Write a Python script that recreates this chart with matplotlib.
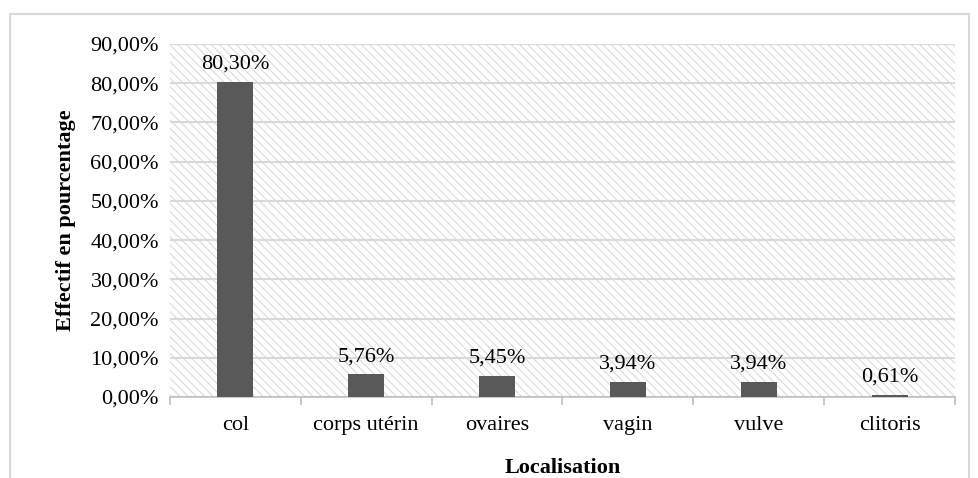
import matplotlib.pyplot as plt
from matplotlib.patches import Rectangle
import numpy as np

categories = ['col', 'corps utérin', 'ovaires', 'vagin', 'vulve', 'clitoris']
values = [80.30, 5.76, 5.45, 3.94, 3.94, 0.61]
yticks = [0, 10, 20, 30, 40, 50, 60, 70, 80, 90]

plt.rcParams['font.family'] = ['Liberation Serif', 'DejaVu Serif']
plt.rcParams['hatch.color'] = '#dadada'
plt.rcParams['hatch.linewidth'] = 0.8

fig = plt.figure(figsize=(9.79, 4.78), dpi=100)
ax = fig.add_axes([170/979, 1 - 397/478, (955-170)/979, (397-44)/478])

# outer chart border (open at bottom, cut by image edge)
fig.patches.append(Rectangle((10/979, -0.05), (969-10)/979, 1.05 - 14/478,
                             transform=fig.transFigure, fill=False,
                             edgecolor='#d9d9d9', linewidth=1.5))

# hatched plot area
ax.add_patch(Rectangle((0, 0), 1, 1, transform=ax.transAxes, facecolor='white',
                       hatch='\\\\\\\\', edgecolor='#dadada', linewidth=0, zorder=0))

x = np.arange(len(categories))
ax.bar(x, values, width=0.275, color='#595959', zorder=3)
for xi, v in zip(x, values):
    ax.annotate(('%.2f%%' % v).replace('.', ','), xy=(xi, v), xytext=(0, 6),
                textcoords='offset points', ha='center', va='bottom', fontsize=16)

ax.set_xlim(-0.5, len(categories) - 0.5)
ax.set_ylim(0, 90)
ax.set_yticks(yticks)
ax.set_yticklabels([('%.2f%%' % t).replace('.', ',') for t in yticks], fontsize=16)
ax.set_xticks(x)
ax.set_xticklabels(categories, fontsize=16)
ax.set_xticks(np.arange(len(categories) + 1) - 0.5, minor=True)
ax.tick_params(axis='x', which='major', length=0, pad=14)
ax.tick_params(axis='x', which='minor', length=6, color='#bfbfbf', width=1.2)
ax.tick_params(axis='y', length=0, pad=8)
ax.grid(axis='y', color='#d9d9d9', linewidth=1.5, zorder=1)
ax.set_axisbelow(True)
for s in ['top', 'right', 'left']:
    ax.spines[s].set_visible(False)
ax.spines['bottom'].set_color('#bfbfbf')
ax.spines['bottom'].set_linewidth(1.2)

ax.set_ylabel('Effectif en pourcentage', fontsize=16, fontweight='bold', labelpad=10)
ax.set_xlabel('Localisation', fontsize=16, fontweight='bold', labelpad=16)

fig.savefig('out.png', dpi=100)
